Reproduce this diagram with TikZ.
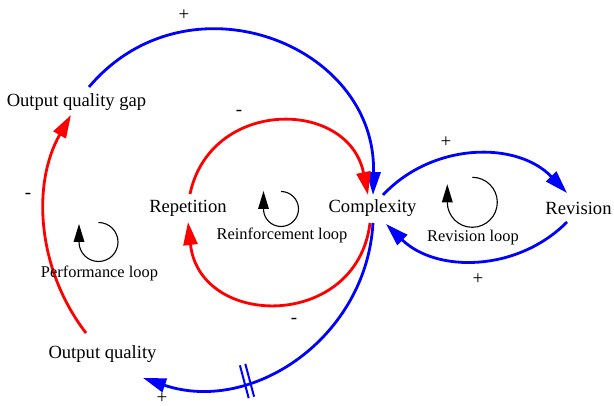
\documentclass[tikz,border=0pt]{standalone}
\usepackage{fontspec}
\setmainfont{Liberation Serif}
\usetikzlibrary{arrows.meta}
\begin{document}
\begin{tikzpicture}[x=1pt,y=1pt,
  var/.style={inner sep=0pt, font=\fontsize{18.6}{20}\selectfont},
  lbl/.style={inner sep=0pt, font=\fontsize{16.4}{18}\selectfont},
  sgn/.style={inner sep=0pt, font=\fontsize{19}{20}\selectfont},
  link/.style={line width=2.8pt, -{Triangle[length=23pt,width=14pt]}},
  poslink/.style={link, color=blue},
  neglink/.style={link, color=red},
  loopline/.style={line width=1.1pt, draw=black},
]
\useasboundingbox (0,0) rectangle (614,406);

% variables
\node[var] (gap) at (76.5,304) {Output quality gap};
\node[var] (oq)  at (102.5,52) {Output quality};
\node[var] (rep) at (188,198) {Repetition};
\node[var] (cx)  at (372.5,198) {Complexity};
\node[var] (rev) at (578.5,198) {Revision};

% connector end points
\coordinate (gapOut) at (89,319);
\coordinate (cxInA)  at (373,211);
\coordinate (repOut) at (190,212);
\coordinate (cxInB)  at (368,211);
\coordinate (cxOutB) at (370,183);
\coordinate (repIn)  at (188,184);
\coordinate (cxOutC) at (373,183);
\coordinate (oqIn)   at (143,28);
\coordinate (oqOut)  at (86,73);
\coordinate (gapIn)  at (71,291);
\coordinate (cxOutR) at (383,211);
\coordinate (revIn)  at (567,213);
\coordinate (revOut) at (567,184);
\coordinate (cxInR)  at (386,182);
\coordinate (delay)  at (247,25);

% connectors
\draw[poslink] (gapOut) to[out=49.8,in=88.6,distance=152pt] (cxInA);
\draw[neglink] (repOut) to[out=78,in=101.4,distance=98.6pt] (cxInB);
\draw[neglink] (cxOutB) to[out=-96.9,in=-83.7,distance=108pt] (repIn);
\draw[poslink] (cxOutC) to[out=-93.3,in=-18.7,distance=115pt] (oqIn);
\draw[neglink] (oqOut) to[out=127.7,in=240.2,distance=79.8pt] (gapIn);
\draw[poslink] (cxOutR) to[out=46.9,in=133.7,distance=72.4pt] (revIn);
\draw[poslink] (revOut) to[out=-134.7,in=-44.4,distance=70.3pt] (cxInR);

% delay mark
\draw[blue, line width=2pt, shift={(delay)}, rotate=15]
  (-2.8,-17) -- (-2.8,17) (2.8,-17) -- (2.8,17);

% polarity signs
\node[sgn] (s1) at (184,391) {+};
\node[sgn] (s2) at (239,293) {-};
\node[sgn] (s3) at (446,264) {+};
\node[sgn] (s4) at (478,127) {+};
\node[sgn] (s5) at (28,210) {-};
\node[sgn] (s6) at (294,85) {-};
\node[sgn] (s7) at (162,8) {+};

% loop labels
\node[lbl] (perf)  at (99.5,133) {Performance loop};
\node[lbl] (reinf) at (282,171) {Reinforcement loop};
\node[lbl] (rloop) at (473,168) {Revision loop};

% loop icons
\draw[loopline] (98.5,183.5) arc[start angle=90,end angle=-180,radius=19.5];
\fill (73.5,164) -- (84.5,164) -- (79,182) -- cycle;
\draw[loopline] (281,214.5) arc[start angle=90,end angle=-180,radius=17.5];
\fill (258,197) -- (269,197) -- (263.5,215) -- cycle;
\draw[loopline] (472.3,228.7) arc[start angle=90,end angle=-180,radius=25];
\fill (441.8,203.7) -- (452.8,203.7) -- (447.3,221.7) -- cycle;
\end{tikzpicture}
\end{document}
